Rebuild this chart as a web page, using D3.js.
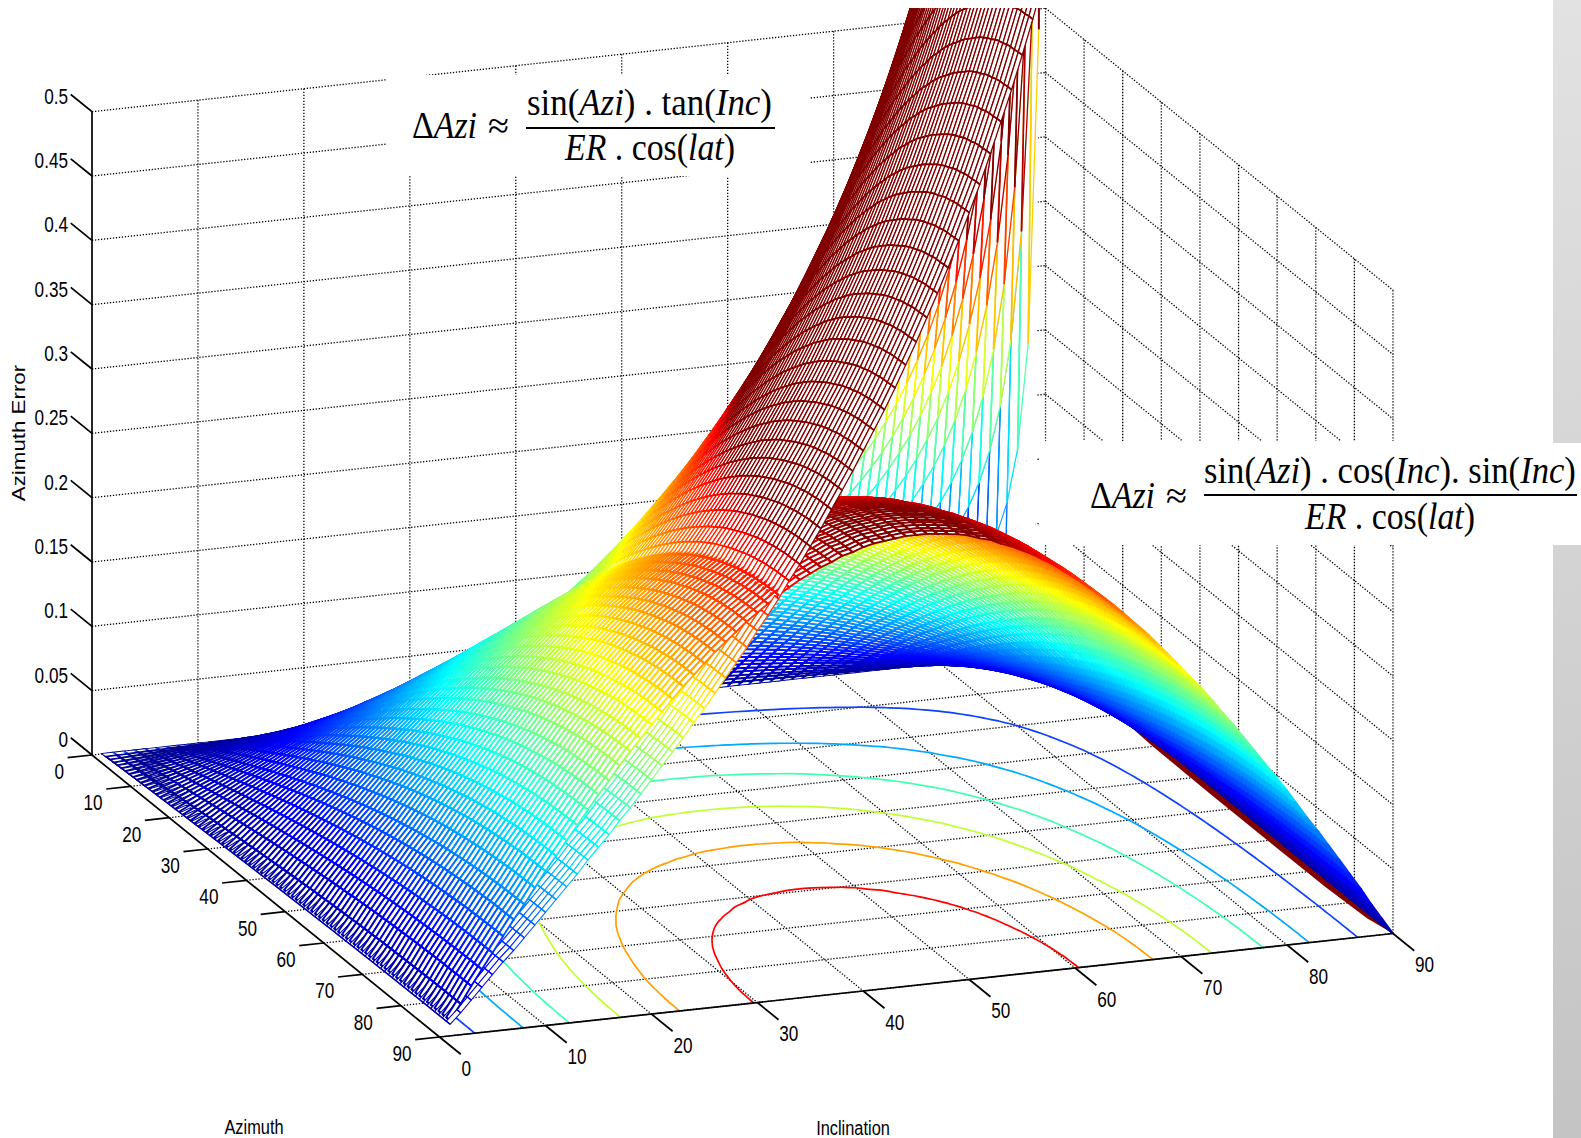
<!DOCTYPE html>
<html>
<head>
<meta charset="utf-8">
<title>Azimuth Error</title>
<script src="https://cdn.jsdelivr.net/npm/d3@7"></script>
<style>
  html, body { margin: 0; padding: 0; background: #fff; }
  svg { display: block; }
  text { font-family: "Liberation Sans", sans-serif; fill: #000; }
  text.eq { font-family: "Liberation Serif", serif; }
</style>
</head>
<body>
<svg id="chart"></svg>
<script>
const width = 1581;
const height = 1138;

// Tick labels
const azimuthTicks = [0, 10, 20, 30, 40, 50, 60, 70, 80, 90];
const inclinationTicks = [0, 10, 20, 30, 40, 50, 60, 70, 80, 90];
const errorTicks = [0, 0.05, 0.1, 0.15, 0.2, 0.25, 0.3, 0.35, 0.4, 0.45, 0.5];

// Surfaces are separable: height = azimuth share * height of the az=90 edge.
// Share of the edge height at azimuth 0 to 90 deg
const azimuthShare = [
  0, .017, .035, .052, .070, .087, .105, .122, .139, .156,
  .174, .191, .208, .225, .242, .259, .276, .292, .309, .326,
  .342, .358, .375, .391, .407, .423, .438, .454, .469, .485,
  .500, .515, .530, .545, .559, .574, .588, .602, .616, .629,
  .643, .656, .669, .682, .695, .707, .719, .731, .743, .755,
  .766, .777, .788, .799, .809, .819, .829, .839, .848, .857,
  .866, .875, .883, .891, .899, .906, .914, .921, .927, .934,
  .940, .946, .951, .956, .961, .966, .970, .974, .978, .982,
  .985, .988, .990, .993, .995, .996, .998, .999, .999, 1, 1
].slice(0, 91);

// Upper surface, height of the az=90 edge at inclination 0 to 89 deg
const upperEdge = [
  0, .009, .017, .026, .035, .044, .053, .061, .070, .079,
  .088, .097, .106, .115, .125, .134, .143, .153, .162, .172,
  .182, .192, .202, .212, .223, .233, .244, .255, .266, .277,
  .289, .300, .312, .325, .337, .350, .363, .377, .391, .405,
  .420, .435, .450, .466, .483, .500, .518, .536, .555, .575,
  .596, .617, .640, .664, .688, .714, .741, .770, .800, .832,
  .866, .902, .940, .981, 1.025, 1.072, 1.123, 1.178, 1.238, 1.303,
  1.374, 1.452, 1.539, 1.635, 1.744, 1.866, 2.005, 2.166, 2.352, 2.572,
  2.836, 3.157, 3.558, 4.072, 4.757, 5.715, 7.150, 9.541, 14.318, 28.645
];

// Lower surface, height of the az=90 edge at inclination 0 to 90 deg
const lowerEdge = [
  0, .012, .024, .037, .049, .061, .073, .085, .096, .108,
  .120, .131, .142, .153, .164, .175, .185, .196, .206, .215,
  .225, .234, .243, .252, .260, .268, .276, .283, .290, .297,
  .303, .309, .315, .320, .325, .329, .333, .336, .340, .342,
  .345, .347, .348, .349, .350, .350, .350, .349, .348, .347,
  .345, .342, .340, .336, .333, .329, .325, .320, .315, .309,
  .303, .297, .290, .283, .276, .268, .260, .252, .243, .234,
  .225, .215, .206, .196, .185, .175, .164, .153, .142, .131,
  .120, .108, .096, .085, .073, .061, .049, .037, .024, .012, 0
];

// Floor contours of the lower surface
const contourLevels = [0.041, 0.095, 0.145, 0.197, 0.249, 0.301];
const contourColors = ["#1040ff", "#00a8ff", "#40ffb0", "#c0ff30", "#ffa000", "#ff0000"];

// Dark strip next to the far floor edge, [azimuth, inclination]
const stripAz = [22, 30, 45, 60, 75, 85, 90];
const stripInc = [89.4, 89.2, 89.1, 89.1, 89.15, 89.4, 90];

const svg = d3.select("#chart").attr("width", width).attr("height", height);

// Projection of the box, it is orthographic so each axis is one linear scale
const xFromAz = d3.scaleLinear().domain([0, 90]).range([0, 347.5]);
const yFromAz = d3.scaleLinear().domain([0, 90]).range([0, 282]);
const xFromInc = d3.scaleLinear().domain([0, 90]).range([0, 953.5]);
const yFromInc = d3.scaleLinear().domain([0, 90]).range([0, -103.5]);
const yFromErr = d3.scaleLinear().domain([0, 0.5]).range([0, -643.3]);
const project = (az, inc, err) => [
  92 + xFromAz(az) + xFromInc(inc),
  755 + yFromAz(az) + yFromInc(inc) + yFromErr(err)
];

// Jet colormap
const jet = d3.scaleLinear()
  .domain([0, 0.11, 0.36, 0.61, 0.86, 0.93])
  .range(["#00008f", "#0000ff", "#00ffff", "#ffff00", "#ff0000", "#800000"])
  .clamp(true);
const color = err => jet(err / 0.37);

const line = d3.line();

const defs = svg.append("defs");
defs.append("clipPath").attr("id", "crop")
  .append("rect").attr("x", 0).attr("y", 8).attr("width", width).attr("height", height - 8);
const band = defs.append("linearGradient").attr("id", "band")
  .attr("x1", 0).attr("y1", 0).attr("x2", 0).attr("y2", 1);
band.append("stop").attr("offset", 0).attr("stop-color", "#e2e2e2");
band.append("stop").attr("offset", 1).attr("stop-color", "#c4c4c4");

const plot = svg.append("g").attr("clip-path", "url(#crop)");

// Dotted grid
const gridLines = [];
errorTicks.forEach(z => {
  gridLines.push([project(0, 0, z), project(0, 90, z)]);
  gridLines.push([project(0, 90, z), project(90, 90, z)]);
});
azimuthTicks.slice(1).forEach(a => {
  gridLines.push([project(a, 0, 0), project(a, 90, 0)]);
  gridLines.push([project(a, 90, 0), project(a, 90, 0.5)]);
});
inclinationTicks.slice(1).forEach(i => {
  gridLines.push([project(0, i, 0), project(90, i, 0)]);
  gridLines.push([project(0, i, 0), project(0, i, 0.5)]);
});
plot.append("g").selectAll("path").data(gridLines).join("path")
  .attr("d", line)
  .attr("fill", "none")
  .attr("stroke", "#000")
  .attr("stroke-width", 1.3)
  .attr("stroke-dasharray", "1.3 1.7");

// Floor contours from the lower surface grid
const flatGrid = [];
for (let i = 0; i <= 90; i++) {
  for (let a = 0; a <= 90; a++) flatGrid.push(azimuthShare[a] * lowerEdge[i]);
}
const contours = d3.contours().size([91, 91]).thresholds(contourLevels)(flatGrid);
const contourLine = d3.line()
  .defined(p => p[0] <= 90.6)
  .curve(d3.curveBasis)
  .x(p => project(Math.min(p[0] - 0.5, 90), p[1] - 0.5, 0)[0])
  .y(p => project(Math.min(p[0] - 0.5, 90), p[1] - 0.5, 0)[1]);
plot.append("g").selectAll("path").data(contours).join("path")
  .attr("d", c => c.coordinates.flat().map(ring => contourLine(ring)).join(""))
  .attr("fill", "none")
  .attr("stroke", (c, k) => contourColors[k])
  .attr("stroke-width", 1.7);

// Dark strip
const stripPoints = stripAz.map((a, k) => project(a, stripInc[k], 0)).concat([project(22, 90, 0)]);
plot.append("path")
  .attr("d", line(stripPoints) + "Z")
  .attr("fill", "#800000");

// Mesh cells with white faces, sorted far to near along the view direction
const cells = [];
function addSurface(edge, lastInc, lower) {
  const z = (a, i) => azimuthShare[a] * edge[i];
  for (let a = 0; a < 90; a++) {
    for (let i = 1; i < lastInc; i++) {
      const p00 = project(a, i, z(a, i));
      const p10 = project(a + 1, i, z(a + 1, i));
      const p11 = project(a + 1, i + 1, z(a + 1, i + 1));
      const p01 = project(a, i + 1, z(a, i + 1));
      if (Math.max(p00[1], p10[1], p11[1], p01[1]) < 8) continue;
      // the a=0 row shoots up near 90 deg inclination, its steep rungs stay light
      const steepRow = a === 0 && !lower;
      const low = z(a, i) < 0.12;
      cells.push({
        depth: 10.6 * (a + 0.5) - 3.86 * (i + 0.5),
        face: [p00, p10, p11, p01],
        nearArc: i === 1 ? [p00, p10] : null,
        farArc: steepRow && i >= 86 ? null : [p01, p11],
        stroke: steepRow ? "none" : color(z(a, i)),
        arcStroke: steepRow ? "#0070ff" : color(z(a, i + 1)),
        faceWidth: lower ? 1.9 : (low ? 1.05 : 1.3),
        arcWidth: lower ? 1.9 : (low ? 1.4 : 1.7)
      });
    }
  }
}
addSurface(lowerEdge, 90, true);
addSurface(upperEdge, 89, false);
cells.sort((u, v) => u.depth - v.depth);

const meshPaths = [];
cells.forEach(c => {
  meshPaths.push({ d: line(c.face) + "Z", fill: "#fff", stroke: c.stroke, w: c.faceWidth });
  if (c.farArc) meshPaths.push({ d: line(c.farArc), fill: "none", stroke: c.arcStroke, w: c.arcWidth });
  if (c.nearArc) meshPaths.push({ d: line(c.nearArc), fill: "none", stroke: c.stroke, w: c.arcWidth });
});
plot.append("g").selectAll("path").data(meshPaths).join("path")
  .attr("d", d => d.d)
  .attr("fill", d => d.fill)
  .attr("stroke", d => d.stroke)
  .attr("stroke-width", d => d.w);

// Last stretch of the az=1 line before tan blows up
plot.append("path")
  .attr("d", line([project(1, 89, azimuthShare[1] * upperEdge[89]), project(1, 89, 1.2)]))
  .attr("fill", "none")
  .attr("stroke", "#800000")
  .attr("stroke-width", 1.7);

// Axes
const axisLines = [
  [project(0, 0, 0), project(0, 0, 0.5)],
  [project(0, 0, 0), project(90, 0, 0)],
  [project(90, 0, 0), project(90, 90, 0)]
];
azimuthTicks.forEach(a => axisLines.push([project(a, 0, 0), project(a, -2.3, 0)]));
inclinationTicks.forEach(i => axisLines.push([project(90, i, 0), project(95.5, i, 0)]));
errorTicks.forEach(z => axisLines.push([project(0, 0, z), project(-5.5, 0, z)]));
svg.append("g").selectAll("path").data(axisLines).join("path")
  .attr("d", line)
  .attr("fill", "none")
  .attr("stroke", "#000")
  .attr("stroke-width", 1.7);

function label(txt, x, y, anchor, sx = 0.78, rotate = 0, size = 22) {
  svg.append("text")
    .attr("transform", `translate(${x},${y}) rotate(${rotate}) scale(${sx},1)`)
    .attr("text-anchor", anchor)
    .attr("dy", "0.36em")
    .attr("font-size", size)
    .text(txt);
}
errorTicks.forEach(z => {
  const p = project(0, 0, z);
  label(String(z), 68, p[1] - 16, "end");
});
azimuthTicks.forEach(a => {
  const p = project(a, 0, 0);
  label(String(a), p[0] - 28, p[1] + 16, "end");
});
inclinationTicks.forEach(i => {
  const p = project(90, i, 0);
  label(String(i), p[0] + 22, p[1] + 31, "start");
});
label("Azimuth", 254, 1126, "middle", 0.78, 0, 21);
label("Inclination", 853, 1127, "middle", 0.78, 0, 21);
label("Azimuth Error", 19, 433, "middle", 1.24, -90, 18);

// Pasted white equation boxes and the grey band
svg.append("rect").attr("x", 386).attr("y", 75).attr("width", 424).attr("height", 101).attr("fill", "#fff");
svg.append("rect").attr("x", 1040).attr("y", 441).attr("width", 541).attr("height", 104).attr("fill", "#fff");
svg.append("path")
  .attr("d", "M1553,0H1581V443H1553ZM1553,545H1581V1138H1553Z")
  .attr("fill", "url(#band)");

// parts: [text, italic]
function equationLine(parts, x0, x1, baseline, size = 37) {
  const t = svg.append("text").attr("class", "eq").attr("font-size", size).attr("y", baseline);
  parts.forEach(p => t.append("tspan").attr("font-style", p[1] ? "italic" : "normal").text(p[0]));
  const w = t.node().getComputedTextLength();
  t.attr("transform", `translate(${x0},${baseline}) scale(${(x1 - x0) / w},1) translate(0,${-baseline})`);
}
const numerator1 = [["sin(", 0], ["Azi", 1], [") . tan(", 0], ["Inc", 1], [")", 0]];
const numerator2 = [["sin(", 0], ["Azi", 1], [") . cos(", 0], ["Inc", 1], ["). sin(", 0], ["Inc", 1], [")", 0]];
const denominator = [["ER", 1], [" . cos(", 0], ["lat", 1], [")", 0]];
const deltaAzi = [["\u0394", 0], ["Azi", 1]];

equationLine(deltaAzi, 412, 477, 138);
equationLine([["\u2248", 0]], 488, 509, 138);
equationLine(numerator1, 527, 772, 115);
svg.append("rect").attr("x", 526).attr("y", 127).attr("width", 249).attr("height", 2).attr("fill", "#000");
equationLine(denominator, 565, 735, 160);

equationLine(deltaAzi, 1090, 1155, 508);
equationLine([["\u2248", 0]], 1166, 1187, 508);
equationLine(numerator2, 1204, 1576, 483);
svg.append("rect").attr("x", 1204).attr("y", 494).attr("width", 373).attr("height", 2).attr("fill", "#000");
equationLine(denominator, 1305, 1475, 529);
</script>
</body>
</html>
